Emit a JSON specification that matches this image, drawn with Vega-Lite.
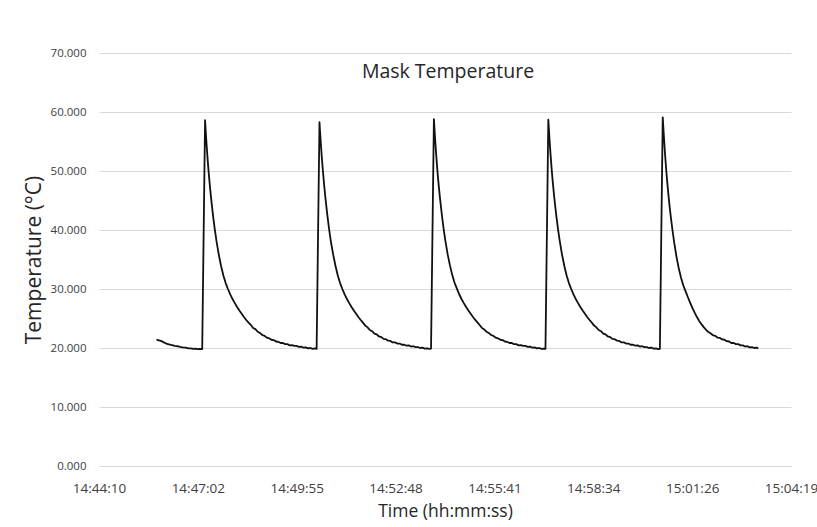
{
  "$schema": "https://vega.github.io/schema/vega-lite/v6.json",
  "width": 692,
  "height": 413,
  "autosize": "none",
  "padding": {"left": 99, "top": 53, "right": 26, "bottom": 61},
  "background": "white",
  "title": {
    "text": "Mask Temperature",
    "font": "Open Sans",
    "fontSize": 19.5,
    "fontWeight": "normal",
    "color": "#262626",
    "anchor": "middle",
    "baseline": "alphabetic",
    "offset": 0,
    "dy": 50,
    "dx": 3
  },
  "data": {
    "format": {"parse": {"t": "date:'%H:%M:%S'"}},
    "values": [
      {"t": "14:45:50", "v": 21.4}, {"t": "14:45:54", "v": 21.3}, {"t": "14:45:58", "v": 21.2}, {"t": "14:46:02", "v": 21.0},
      {"t": "14:46:07", "v": 20.75}, {"t": "14:46:12", "v": 20.6}, {"t": "14:46:17", "v": 20.5}, {"t": "14:46:22", "v": 20.35},
      {"t": "14:46:27", "v": 20.3}, {"t": "14:46:31", "v": 20.2}, {"t": "14:46:36", "v": 20.1}, {"t": "14:46:41", "v": 20.05},
      {"t": "14:46:46", "v": 19.95}, {"t": "14:46:50", "v": 19.95}, {"t": "14:46:54", "v": 19.85}, {"t": "14:46:58", "v": 19.9},
      {"t": "14:47:02", "v": 19.8}, {"t": "14:47:06", "v": 19.85}, {"t": "14:47:10", "v": 19.8},

      {"t": "14:47:15", "v": 58.6}, {"t": "14:47:16", "v": 57.0}, {"t": "14:47:17", "v": 55.4}, {"t": "14:47:19", "v": 52.6},
      {"t": "14:47:21", "v": 50.1}, {"t": "14:47:23", "v": 47.9}, {"t": "14:47:25", "v": 45.9}, {"t": "14:47:27", "v": 44.1},
      {"t": "14:47:29", "v": 42.4}, {"t": "14:47:32", "v": 40.1}, {"t": "14:47:35", "v": 38.1}, {"t": "14:47:39", "v": 35.8},
      {"t": "14:47:43", "v": 33.9}, {"t": "14:47:47", "v": 32.3}, {"t": "14:47:51", "v": 31.0}, {"t": "14:47:55", "v": 30.0},
      {"t": "14:47:59", "v": 29.1}, {"t": "14:48:03", "v": 28.3}, {"t": "14:48:07", "v": 27.6}, {"t": "14:48:11", "v": 26.95},
      {"t": "14:48:15", "v": 26.35}, {"t": "14:48:19", "v": 25.8}, {"t": "14:48:23", "v": 25.25}, {"t": "14:48:27", "v": 24.75},
      {"t": "14:48:31", "v": 24.3}, {"t": "14:48:35", "v": 23.9}, {"t": "14:48:39", "v": 23.4}, {"t": "14:48:43", "v": 23.2},
      {"t": "14:48:47", "v": 22.75}, {"t": "14:48:51", "v": 22.55}, {"t": "14:48:55", "v": 22.2}, {"t": "14:48:59", "v": 22.05},
      {"t": "14:49:03", "v": 21.75}, {"t": "14:49:07", "v": 21.65}, {"t": "14:49:11", "v": 21.4}, {"t": "14:49:15", "v": 21.35},
      {"t": "14:49:19", "v": 21.1}, {"t": "14:49:23", "v": 21.05}, {"t": "14:49:27", "v": 20.85}, {"t": "14:49:31", "v": 20.85},
      {"t": "14:49:35", "v": 20.65}, {"t": "14:49:39", "v": 20.65}, {"t": "14:49:43", "v": 20.45}, {"t": "14:49:47", "v": 20.5},
      {"t": "14:49:51", "v": 20.35}, {"t": "14:49:55", "v": 20.35}, {"t": "14:49:59", "v": 20.2}, {"t": "14:50:03", "v": 20.25},
      {"t": "14:50:07", "v": 20.05}, {"t": "14:50:11", "v": 20.1}, {"t": "14:50:15", "v": 19.95}, {"t": "14:50:19", "v": 20.0},
      {"t": "14:50:23", "v": 19.85}, {"t": "14:50:27", "v": 19.95}, {"t": "14:50:30", "v": 19.85},

      {"t": "14:50:35", "v": 58.3}, {"t": "14:50:36", "v": 56.7}, {"t": "14:50:37", "v": 55.2}, {"t": "14:50:39", "v": 52.4},
      {"t": "14:50:41", "v": 50.0}, {"t": "14:50:43", "v": 47.8}, {"t": "14:50:45", "v": 45.8}, {"t": "14:50:47", "v": 44.0},
      {"t": "14:50:49", "v": 42.3}, {"t": "14:50:52", "v": 40.0}, {"t": "14:50:55", "v": 38.0}, {"t": "14:50:59", "v": 35.8},
      {"t": "14:51:03", "v": 33.9}, {"t": "14:51:07", "v": 32.3}, {"t": "14:51:11", "v": 31.0}, {"t": "14:51:15", "v": 30.0},
      {"t": "14:51:19", "v": 29.1}, {"t": "14:51:23", "v": 28.3}, {"t": "14:51:27", "v": 27.6}, {"t": "14:51:31", "v": 26.95},
      {"t": "14:51:35", "v": 26.35}, {"t": "14:51:39", "v": 25.8}, {"t": "14:51:43", "v": 25.25}, {"t": "14:51:47", "v": 24.75},
      {"t": "14:51:51", "v": 24.3}, {"t": "14:51:55", "v": 23.8}, {"t": "14:51:59", "v": 23.5}, {"t": "14:52:03", "v": 23.05},
      {"t": "14:52:07", "v": 22.85}, {"t": "14:52:11", "v": 22.45}, {"t": "14:52:15", "v": 22.3}, {"t": "14:52:19", "v": 21.95},
      {"t": "14:52:23", "v": 21.85}, {"t": "14:52:27", "v": 21.55}, {"t": "14:52:31", "v": 21.5}, {"t": "14:52:35", "v": 21.25},
      {"t": "14:52:39", "v": 21.2}, {"t": "14:52:43", "v": 20.95}, {"t": "14:52:47", "v": 20.95}, {"t": "14:52:51", "v": 20.75},
      {"t": "14:52:55", "v": 20.75}, {"t": "14:52:59", "v": 20.55}, {"t": "14:53:03", "v": 20.55}, {"t": "14:53:07", "v": 20.4},
      {"t": "14:53:11", "v": 20.45}, {"t": "14:53:15", "v": 20.25}, {"t": "14:53:19", "v": 20.3}, {"t": "14:53:23", "v": 20.15},
      {"t": "14:53:27", "v": 20.15}, {"t": "14:53:31", "v": 20.0}, {"t": "14:53:35", "v": 20.05}, {"t": "14:53:39", "v": 19.9},
      {"t": "14:53:43", "v": 19.95}, {"t": "14:53:47", "v": 19.85}, {"t": "14:53:50", "v": 19.9},

      {"t": "14:53:55", "v": 58.8}, {"t": "14:53:56", "v": 57.2}, {"t": "14:53:57", "v": 55.6}, {"t": "14:53:59", "v": 52.8},
      {"t": "14:54:01", "v": 50.2}, {"t": "14:54:03", "v": 48.0}, {"t": "14:54:05", "v": 46.0}, {"t": "14:54:07", "v": 44.2},
      {"t": "14:54:09", "v": 42.5}, {"t": "14:54:12", "v": 40.2}, {"t": "14:54:15", "v": 38.2}, {"t": "14:54:19", "v": 35.9},
      {"t": "14:54:23", "v": 34.0}, {"t": "14:54:27", "v": 32.4}, {"t": "14:54:31", "v": 31.1}, {"t": "14:54:35", "v": 30.1},
      {"t": "14:54:39", "v": 29.15}, {"t": "14:54:43", "v": 28.35}, {"t": "14:54:47", "v": 27.65}, {"t": "14:54:51", "v": 27.0},
      {"t": "14:54:55", "v": 26.4}, {"t": "14:54:59", "v": 25.85}, {"t": "14:55:03", "v": 25.3}, {"t": "14:55:07", "v": 24.8},
      {"t": "14:55:11", "v": 24.35}, {"t": "14:55:15", "v": 23.9}, {"t": "14:55:19", "v": 23.4}, {"t": "14:55:23", "v": 23.15},
      {"t": "14:55:27", "v": 22.75}, {"t": "14:55:31", "v": 22.55}, {"t": "14:55:35", "v": 22.2}, {"t": "14:55:39", "v": 22.05},
      {"t": "14:55:43", "v": 21.75}, {"t": "14:55:47", "v": 21.65}, {"t": "14:55:51", "v": 21.4}, {"t": "14:55:55", "v": 21.35},
      {"t": "14:55:59", "v": 21.1}, {"t": "14:56:03", "v": 21.05}, {"t": "14:56:07", "v": 20.85}, {"t": "14:56:11", "v": 20.85},
      {"t": "14:56:15", "v": 20.65}, {"t": "14:56:19", "v": 20.65}, {"t": "14:56:23", "v": 20.45}, {"t": "14:56:27", "v": 20.5},
      {"t": "14:56:31", "v": 20.35}, {"t": "14:56:35", "v": 20.35}, {"t": "14:56:39", "v": 20.2}, {"t": "14:56:43", "v": 20.25},
      {"t": "14:56:47", "v": 20.05}, {"t": "14:56:51", "v": 20.1}, {"t": "14:56:55", "v": 19.95}, {"t": "14:56:59", "v": 20.0},
      {"t": "14:57:03", "v": 19.85}, {"t": "14:57:07", "v": 19.9}, {"t": "14:57:10", "v": 19.85},

      {"t": "14:57:15", "v": 58.7}, {"t": "14:57:16", "v": 57.1}, {"t": "14:57:17", "v": 55.5}, {"t": "14:57:19", "v": 52.7},
      {"t": "14:57:21", "v": 50.1}, {"t": "14:57:23", "v": 47.9}, {"t": "14:57:25", "v": 45.9}, {"t": "14:57:27", "v": 44.1},
      {"t": "14:57:29", "v": 42.4}, {"t": "14:57:32", "v": 40.1}, {"t": "14:57:35", "v": 38.1}, {"t": "14:57:39", "v": 35.8},
      {"t": "14:57:43", "v": 33.9}, {"t": "14:57:47", "v": 32.3}, {"t": "14:57:51", "v": 31.0}, {"t": "14:57:55", "v": 30.0},
      {"t": "14:57:59", "v": 29.1}, {"t": "14:58:03", "v": 28.3}, {"t": "14:58:07", "v": 27.6}, {"t": "14:58:11", "v": 26.95},
      {"t": "14:58:15", "v": 26.35}, {"t": "14:58:19", "v": 25.8}, {"t": "14:58:23", "v": 25.25}, {"t": "14:58:27", "v": 24.75},
      {"t": "14:58:31", "v": 24.3}, {"t": "14:58:35", "v": 23.8}, {"t": "14:58:39", "v": 23.5}, {"t": "14:58:43", "v": 23.05},
      {"t": "14:58:47", "v": 22.85}, {"t": "14:58:51", "v": 22.45}, {"t": "14:58:55", "v": 22.3}, {"t": "14:58:59", "v": 21.95},
      {"t": "14:59:03", "v": 21.85}, {"t": "14:59:07", "v": 21.55}, {"t": "14:59:11", "v": 21.5}, {"t": "14:59:15", "v": 21.25},
      {"t": "14:59:19", "v": 21.2}, {"t": "14:59:23", "v": 20.95}, {"t": "14:59:27", "v": 20.95}, {"t": "14:59:31", "v": 20.75},
      {"t": "14:59:35", "v": 20.75}, {"t": "14:59:39", "v": 20.55}, {"t": "14:59:43", "v": 20.55}, {"t": "14:59:47", "v": 20.4},
      {"t": "14:59:51", "v": 20.45}, {"t": "14:59:55", "v": 20.25}, {"t": "14:59:59", "v": 20.3}, {"t": "15:00:03", "v": 20.15},
      {"t": "15:00:07", "v": 20.15}, {"t": "15:00:11", "v": 20.0}, {"t": "15:00:15", "v": 20.05}, {"t": "15:00:19", "v": 19.9},
      {"t": "15:00:23", "v": 19.95}, {"t": "15:00:27", "v": 19.8}, {"t": "15:00:30", "v": 19.85},

      {"t": "15:00:35", "v": 59.1}, {"t": "15:00:36", "v": 57.5}, {"t": "15:00:37", "v": 55.9}, {"t": "15:00:39", "v": 52.9},
      {"t": "15:00:41", "v": 50.3}, {"t": "15:00:43", "v": 48.0}, {"t": "15:00:45", "v": 45.9}, {"t": "15:00:47", "v": 44.0},
      {"t": "15:00:49", "v": 42.3}, {"t": "15:00:52", "v": 40.0}, {"t": "15:00:55", "v": 37.9}, {"t": "15:00:59", "v": 35.5},
      {"t": "15:01:03", "v": 33.5}, {"t": "15:01:07", "v": 31.9}, {"t": "15:01:11", "v": 30.6}, {"t": "15:01:15", "v": 29.6},
      {"t": "15:01:19", "v": 28.6}, {"t": "15:01:23", "v": 27.65}, {"t": "15:01:27", "v": 26.75}, {"t": "15:01:31", "v": 25.95},
      {"t": "15:01:35", "v": 25.2}, {"t": "15:01:39", "v": 24.55}, {"t": "15:01:43", "v": 24.0}, {"t": "15:01:47", "v": 23.5},
      {"t": "15:01:51", "v": 23.05}, {"t": "15:01:55", "v": 22.7}, {"t": "15:01:59", "v": 22.45}, {"t": "15:02:03", "v": 22.15},
      {"t": "15:02:07", "v": 22.05}, {"t": "15:02:11", "v": 21.75}, {"t": "15:02:15", "v": 21.7}, {"t": "15:02:19", "v": 21.45},
      {"t": "15:02:23", "v": 21.4}, {"t": "15:02:27", "v": 21.15}, {"t": "15:02:31", "v": 21.1}, {"t": "15:02:35", "v": 20.85},
      {"t": "15:02:39", "v": 20.85}, {"t": "15:02:43", "v": 20.65}, {"t": "15:02:47", "v": 20.65}, {"t": "15:02:51", "v": 20.45},
      {"t": "15:02:55", "v": 20.45}, {"t": "15:02:59", "v": 20.25}, {"t": "15:03:03", "v": 20.3}, {"t": "15:03:07", "v": 20.1},
      {"t": "15:03:11", "v": 20.15}, {"t": "15:03:15", "v": 20.0}, {"t": "15:03:19", "v": 20.05}, {"t": "15:03:22", "v": 19.95}
    ]
  },
  "mark": {"type": "line", "color": "#111111", "strokeWidth": 1.8, "strokeJoin": "round"},
  "encoding": {
    "x": {
      "field": "t",
      "type": "temporal",
      "scale": {
        "domain": [
          {"year": 1900, "month": 1, "date": 1, "hours": 14, "minutes": 44, "seconds": 9, "milliseconds": 600},
          {"year": 1900, "month": 1, "date": 1, "hours": 15, "minutes": 4, "seconds": 19, "milliseconds": 200}
        ]
      },
      "axis": {
        "title": "Time (hh:mm:ss)",
        "values": [
          {"year": 1900, "month": 1, "date": 1, "hours": 14, "minutes": 44, "seconds": 9, "milliseconds": 600},
          {"year": 1900, "month": 1, "date": 1, "hours": 14, "minutes": 47, "seconds": 2, "milliseconds": 400},
          {"year": 1900, "month": 1, "date": 1, "hours": 14, "minutes": 49, "seconds": 55, "milliseconds": 200},
          {"year": 1900, "month": 1, "date": 1, "hours": 14, "minutes": 52, "seconds": 48, "milliseconds": 0},
          {"year": 1900, "month": 1, "date": 1, "hours": 14, "minutes": 55, "seconds": 40, "milliseconds": 800},
          {"year": 1900, "month": 1, "date": 1, "hours": 14, "minutes": 58, "seconds": 33, "milliseconds": 600},
          {"year": 1900, "month": 1, "date": 1, "hours": 15, "minutes": 1, "seconds": 26, "milliseconds": 400},
          {"year": 1900, "month": 1, "date": 1, "hours": 15, "minutes": 4, "seconds": 19, "milliseconds": 200}
        ],
        "labelExpr": "timeFormat(time(datum.value) + 500, '%H:%M:%S')",
        "grid": false,
        "ticks": false,
        "domain": true,
        "domainColor": "#d9d9d9",
        "domainWidth": 1,
        "labelFont": "Open Sans",
        "labelFontSize": 13.5,
        "labelColor": "#404040",
        "labelPadding": 15,
        "labelOverlap": false,
        "labelFlush": false,
        "titleFont": "Open Sans",
        "titleFontSize": 17.5,
        "titleFontWeight": "normal",
        "titleColor": "#262626",
        "titlePadding": 8
      }
    },
    "y": {
      "field": "v",
      "type": "quantitative",
      "scale": {"domain": [0, 70], "nice": false},
      "axis": {
        "title": "Temperature (°C)",
        "values": [0, 10, 20, 30, 40, 50, 60, 70],
        "format": ".3f",
        "grid": true,
        "gridColor": "#d9d9d9",
        "gridWidth": 1,
        "ticks": false,
        "domain": false,
        "labelFont": "Open Sans",
        "labelFontSize": 11.5,
        "labelColor": "#404040",
        "labelPadding": 13,
        "titleFont": "Open Sans",
        "titleFontSize": 21,
        "titleFontWeight": "normal",
        "titleColor": "#262626",
        "titlePadding": 6
      }
    }
  },
  "config": {
    "view": {"stroke": null}
  }
}
